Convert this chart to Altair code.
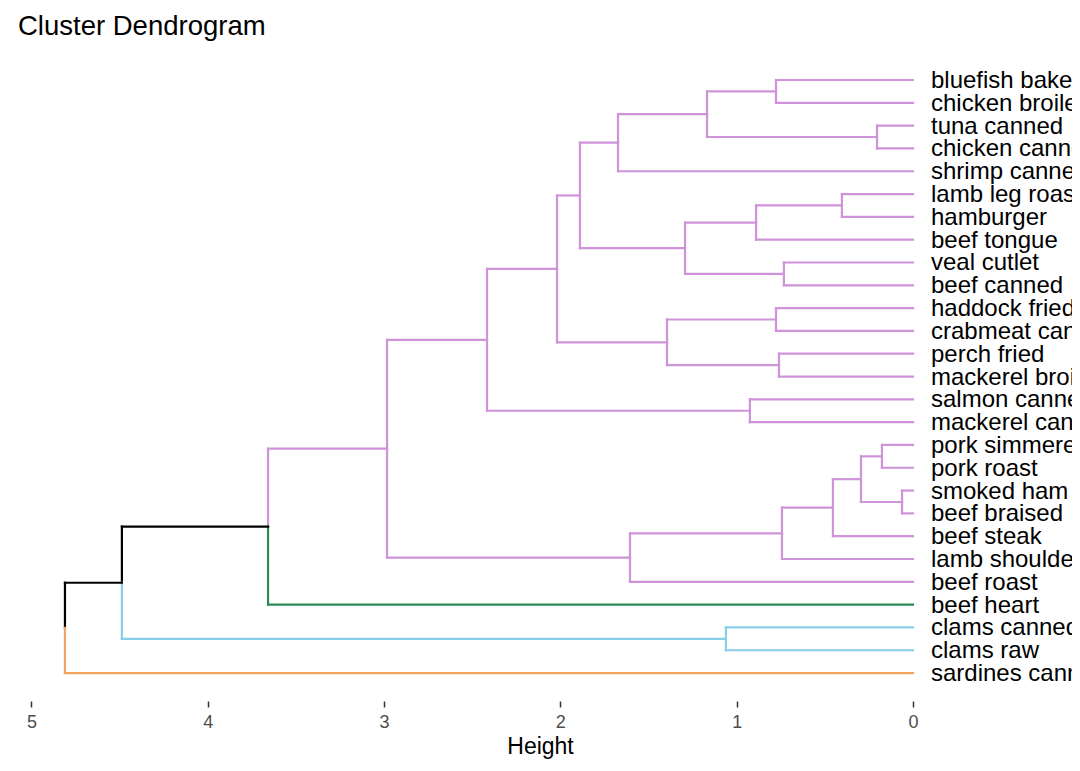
import altair as alt
import pandas as pd

# Leaves, top to bottom
labels = ["bluefish baked", "chicken broiled", "tuna canned", "chicken canned",
          "shrimp canned", "lamb leg roast", "hamburger", "beef tongue",
          "veal cutlet", "beef canned", "haddock fried", "crabmeat canned",
          "perch fried", "mackerel broiled", "salmon canned", "mackerel canned",
          "pork simmered", "pork roast", "smoked ham", "beef braised",
          "beef steak", "lamb shoulder", "beef roast", "beef heart",
          "clams canned", "clams raw", "sardines canned"]

# hclust-style merge table: negative = leaf (1-based), positive = earlier merge
merge_left = [-19, -17, -3, 2, -6, 4, -9, 6, -13, -1, -11, 5, -15, -25,
              10, 12, 11, 8, 15, 19, 20, 21, 22, 23, 24, 25]
merge_right = [-20, -18, -4, 1, -7, -21, -10, -22, -14, -2, -12, -8, -16, -26,
               3, 7, 9, -23, -5, 16, 17, 13, 18, -24, 14, -27]
merge_height = [0.062, 0.176, 0.204, 0.295, 0.403, 0.454, 0.732, 0.743, 0.760,
                0.777, 0.777, 0.890, 0.925, 1.061, 1.168, 1.293, 1.395, 1.605,
                1.673, 1.889, 2.019, 2.416, 2.983, 3.658, 4.487, 4.810]

# cluster of each leaf (k = 4)
leaf_cluster = ["A"] * 23 + ["B", "C", "C", "D"]
cluster_colors = {"A": "#CE93D8", "B": "#2E8B57", "C": "#87CEEB", "D": "#F4A460"}
cut_height = 3.3

# build node info
node_y, node_h, node_col = {}, {}, {}
for i in range(len(labels)):
    node_y[-(i + 1)] = i
    node_h[-(i + 1)] = 0.0
    node_col[-(i + 1)] = cluster_colors[leaf_cluster[i]]

rows = []
for k, (l, r, h) in enumerate(zip(merge_left, merge_right, merge_height), start=1):
    node_y[k] = (node_y[l] + node_y[r]) / 2
    node_h[k] = h
    node_col[k] = node_col[l] if h < cut_height else "#000000"
    for c in (l, r):
        col = node_col[c]
        rows.append({"x": h, "x2": h, "y": node_y[k], "y2": node_y[c], "c": col})
        rows.append({"x": h, "x2": node_h[c], "y": node_y[c], "y2": node_y[c], "c": col})

seg = pd.DataFrame(rows)
leaf_df = pd.DataFrame({"label": labels, "y": list(range(len(labels))), "x": [0.0] * len(labels)})

FONT = "Liberation Sans"
xscale = alt.Scale(domain=[5.133, -0.902], nice=False, zero=False)
yscale = alt.Scale(domain=[27.225, -1.315], nice=False, zero=False)

lines = alt.Chart(seg).mark_rule(strokeWidth=2.2, strokeCap="square").encode(
    x=alt.X("x:Q", scale=xscale,
            axis=alt.Axis(values=[0, 1, 2, 3, 4, 5], format="d", title="Height",
                          domain=False, grid=False, tickSize=6, tickColor="#333333",
                          tickWidth=1.5, labelColor="#4D4D4D", labelFontSize=18,
                          labelFont=FONT, labelPadding=6, titleFont=FONT,
                          titleFontSize=23, titleFontWeight="normal",
                          titleColor="#000000", titlePadding=4)),
    x2="x2:Q",
    y=alt.Y("y:Q", scale=yscale, axis=None),
    y2="y2:Q",
    color=alt.Color("c:N", scale=None),
)

texts = alt.Chart(leaf_df).mark_text(
    align="left", baseline="middle", dx=18, dy=1, fontSize=24, font=FONT,
    color="#000000", clip=True
).encode(
    x=alt.X("x:Q", scale=xscale),
    y=alt.Y("y:Q", scale=yscale),
    text="label:N",
)

chart = alt.layer(lines, texts).properties(
    width=1064, height=651,
    title=alt.TitleParams("Cluster Dendrogram", anchor="start", frame="group",
                          dx=10, fontSize=27.5, font=FONT, fontWeight="normal",
                          color="#000000", offset=10),
    autosize=alt.AutoSizeParams(type="none"),
    padding={"left": 0, "top": 42, "right": 0, "bottom": 61},
).configure_view(strokeWidth=0)

chart.save("out.html", embed_options={"renderer": "svg", "actions": False})
